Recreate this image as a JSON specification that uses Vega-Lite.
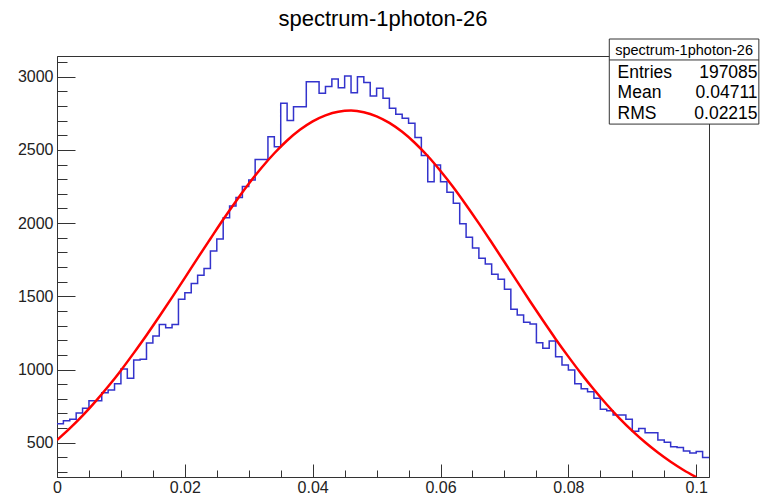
{
  "$schema": "https://vega.github.io/schema/vega-lite/v6.json",
  "width": 652,
  "height": 421,
  "autosize": "none",
  "padding": {"left": 57, "top": 56, "right": 52, "bottom": 18},
  "background": "white",
  "title": {"text": "spectrum-1photon-26", "fontSize": 22, "font": "Liberation Sans", "fontWeight": "normal", "color": "#000", "anchor": "middle", "frame": "group", "offset": 8},
  "config": {"view": {"stroke": "#333", "strokeWidth": 1}, "font": "Liberation Sans"},
  "datasets": {
    "hist": [
      {"x":0,"count":630},{"x":0.001,"count":650},{"x":0.002,"count":660},{"x":0.003,"count":703},{"x":0.004,"count":735},
      {"x":0.005,"count":787},{"x":0.006,"count":787},{"x":0.007,"count":841},{"x":0.008,"count":860},{"x":0.009,"count":903},
      {"x":0.010,"count":1003},{"x":0.011,"count":940},{"x":0.012,"count":1065},{"x":0.013,"count":1070},{"x":0.014,"count":1181},
      {"x":0.015,"count":1229},{"x":0.016,"count":1308},{"x":0.017,"count":1285},{"x":0.018,"count":1308},{"x":0.019,"count":1480},
      {"x":0.020,"count":1525},{"x":0.021,"count":1587},{"x":0.022,"count":1643},{"x":0.023,"count":1690},{"x":0.024,"count":1809},
      {"x":0.025,"count":1891},{"x":0.026,"count":2037},{"x":0.027,"count":2117},{"x":0.028,"count":2174},{"x":0.029,"count":2249},
      {"x":0.030,"count":2294},{"x":0.031,"count":2435},{"x":0.032,"count":2435},{"x":0.033,"count":2590},{"x":0.034,"count":2522},
      {"x":0.035,"count":2818},{"x":0.036,"count":2700},{"x":0.037,"count":2795},{"x":0.038,"count":2795},{"x":0.039,"count":2966},
      {"x":0.040,"count":2966},{"x":0.041,"count":2887},{"x":0.042,"count":2932},{"x":0.043,"count":2984},{"x":0.044,"count":2925},
      {"x":0.045,"count":3005},{"x":0.046,"count":2890},{"x":0.047,"count":3000},{"x":0.048,"count":2960},{"x":0.049,"count":2868},
      {"x":0.050,"count":2920},{"x":0.051,"count":2852},{"x":0.052,"count":2784},{"x":0.053,"count":2743},{"x":0.054,"count":2716},
      {"x":0.055,"count":2682},{"x":0.056,"count":2584},{"x":0.057,"count":2462},{"x":0.058,"count":2283},{"x":0.059,"count":2397},
      {"x":0.060,"count":2283},{"x":0.061,"count":2210},{"x":0.062,"count":2135},{"x":0.063,"count":1995},{"x":0.064,"count":1903},
      {"x":0.065,"count":1830},{"x":0.066,"count":1760},{"x":0.067,"count":1720},{"x":0.068,"count":1650},{"x":0.069,"count":1616},
      {"x":0.070,"count":1548},{"x":0.071,"count":1411},{"x":0.072,"count":1372},{"x":0.073,"count":1322},{"x":0.074,"count":1311},
      {"x":0.075,"count":1183},{"x":0.076,"count":1145},{"x":0.077,"count":1195},{"x":0.078,"count":1087},{"x":0.079,"count":1031},
      {"x":0.080,"count":997},{"x":0.081,"count":903},{"x":0.082,"count":868},{"x":0.083,"count":848},{"x":0.084,"count":803},
      {"x":0.085,"count":728},{"x":0.086,"count":719},{"x":0.087,"count":689},{"x":0.088,"count":689},{"x":0.089,"count":660},
      {"x":0.090,"count":578},{"x":0.091,"count":598},{"x":0.092,"count":568},{"x":0.093,"count":568},{"x":0.094,"count":518},
      {"x":0.095,"count":503},{"x":0.096,"count":473},{"x":0.097,"count":468},{"x":0.098,"count":443},{"x":0.099,"count":430},
      {"x":0.100,"count":440},{"x":0.101,"count":400},{"x":0.102,"count":400}
    ],
    "fit": [
      {"x":0,"f":518},{"x":0.002,"f":598},{"x":0.004,"f":685},{"x":0.006,"f":781},{"x":0.008,"f":884},
      {"x":0.010,"f":994},{"x":0.012,"f":1112},{"x":0.014,"f":1234},{"x":0.016,"f":1362},{"x":0.018,"f":1493},
      {"x":0.020,"f":1626},{"x":0.022,"f":1761},{"x":0.024,"f":1893},{"x":0.026,"f":2024},{"x":0.028,"f":2149},
      {"x":0.030,"f":2268},{"x":0.032,"f":2378},{"x":0.034,"f":2477},{"x":0.036,"f":2564},{"x":0.038,"f":2637},
      {"x":0.040,"f":2695},{"x":0.042,"f":2736},{"x":0.044,"f":2761},{"x":0.046,"f":2768},{"x":0.048,"f":2757},
      {"x":0.050,"f":2729},{"x":0.052,"f":2684},{"x":0.054,"f":2623},{"x":0.056,"f":2547},{"x":0.058,"f":2458},
      {"x":0.060,"f":2356},{"x":0.062,"f":2245},{"x":0.064,"f":2124},{"x":0.066,"f":1998},{"x":0.068,"f":1867},
      {"x":0.070,"f":1734},{"x":0.072,"f":1600},{"x":0.074,"f":1466},{"x":0.076,"f":1336},{"x":0.078,"f":1209},
      {"x":0.080,"f":1088},{"x":0.082,"f":972},{"x":0.084,"f":863},{"x":0.086,"f":761},{"x":0.088,"f":667},
      {"x":0.090,"f":581},{"x":0.092,"f":503},{"x":0.094,"f":433},{"x":0.096,"f":370},{"x":0.098,"f":314},
      {"x":0.100,"f":265}
    ],
    "stats": [
      {"name": "spectrum-1photon-26", "labels": ["Entries", "Mean", "RMS"], "values": ["197085", "0.04711", "0.02215"]}
    ]
  },
  "layer": [
    {
      "data": {"name": "hist"},
      "mark": {"type": "line", "interpolate": "step-after", "color": "#3333cc", "strokeWidth": 1.5},
      "encoding": {
        "x": {
          "field": "x", "type": "quantitative",
          "scale": {"domain": [0, 0.102], "nice": false, "zero": false},
          "axis": {
            "title": null, "grid": false, "tickCount": 200,
            "values": [0,0.005,0.01,0.015,0.02,0.025,0.03,0.035,0.04,0.045,0.05,0.055,0.06,0.065,0.07,0.075,0.08,0.085,0.09,0.095,0.1],
            "labelExpr": "round(datum.value*1000) % 20 === 0 ? format(datum.value, '.2~f') : ''",
            "tickSize": {"condition": {"test": "round(datum.value*1000) % 20 === 0", "value": -13}, "value": -7},
            "labelPadding": 15, "labelFontSize": 16, "labelFont": "Liberation Sans", "labelColor": "#222",
            "labelOverlap": false, "labelFlush": false,
            "domainColor": "#333", "tickColor": "#333", "tickWidth": 1
          }
        },
        "y": {
          "field": "count", "type": "quantitative",
          "scale": {"domain": [266, 3141], "nice": false, "zero": false},
          "axis": {
            "title": null, "grid": false, "tickCount": 200,
            "values": [300,400,500,600,700,800,900,1000,1100,1200,1300,1400,1500,1600,1700,1800,1900,2000,2100,2200,2300,2400,2500,2600,2700,2800,2900,3000,3100],
            "labelExpr": "datum.value % 500 === 0 ? datum.label : ''",
            "format": "d",
            "tickSize": {"condition": {"test": "datum.value % 500 === 0", "value": -18}, "value": -10},
            "labelPadding": 22, "labelFontSize": 16, "labelFont": "Liberation Sans", "labelColor": "#222",
            "labelOverlap": false, "labelFlush": false,
            "domainColor": "#333", "tickColor": "#333", "tickWidth": 1
          }
        }
      }
    },
    {
      "data": {"name": "fit"},
      "mark": {"type": "line", "interpolate": "monotone", "color": "#ff0000", "strokeWidth": 2.5, "clip": true},
      "encoding": {
        "x": {"field": "x", "type": "quantitative"},
        "y": {"field": "f", "type": "quantitative"}
      }
    },
    {
      "data": {"name": "stats"},
      "mark": {"type": "rect", "fill": "white", "stroke": "#333", "strokeWidth": 1, "clip": false},
      "encoding": {
        "x": {"datum": 0.0864, "type": "quantitative"},
        "x2": {"datum": 0.1098},
        "y": {"datum": 3257, "type": "quantitative"},
        "y2": {"datum": 2676}
      }
    },
    {
      "data": {"name": "stats"},
      "mark": {"type": "rule", "stroke": "#333", "strokeWidth": 1, "clip": false},
      "encoding": {
        "x": {"datum": 0.0864, "type": "quantitative"},
        "x2": {"datum": 0.1098},
        "y": {"datum": 3114, "type": "quantitative"}
      }
    },
    {
      "data": {"name": "stats"},
      "mark": {"type": "text", "align": "center", "baseline": "alphabetic", "fontSize": 14.5, "font": "Liberation Sans", "color": "#000", "clip": false},
      "encoding": {
        "x": {"datum": 0.0981, "type": "quantitative"},
        "y": {"datum": 3148, "type": "quantitative"},
        "text": {"field": "name", "type": "nominal"}
      }
    },
    {
      "data": {"name": "stats"},
      "mark": {"type": "text", "align": "left", "baseline": "alphabetic", "fontSize": 17.5, "font": "Liberation Sans", "color": "#000", "lineHeight": 20.5, "clip": false},
      "encoding": {
        "x": {"datum": 0.0877, "type": "quantitative"},
        "y": {"datum": 2991, "type": "quantitative"},
        "text": {"field": "labels", "type": "nominal"}
      }
    },
    {
      "data": {"name": "stats"},
      "mark": {"type": "text", "align": "right", "baseline": "alphabetic", "fontSize": 17.5, "font": "Liberation Sans", "color": "#000", "lineHeight": 20.5, "clip": false},
      "encoding": {
        "x": {"datum": 0.1096, "type": "quantitative"},
        "y": {"datum": 2991, "type": "quantitative"},
        "text": {"field": "values", "type": "nominal"}
      }
    }
  ]
}
